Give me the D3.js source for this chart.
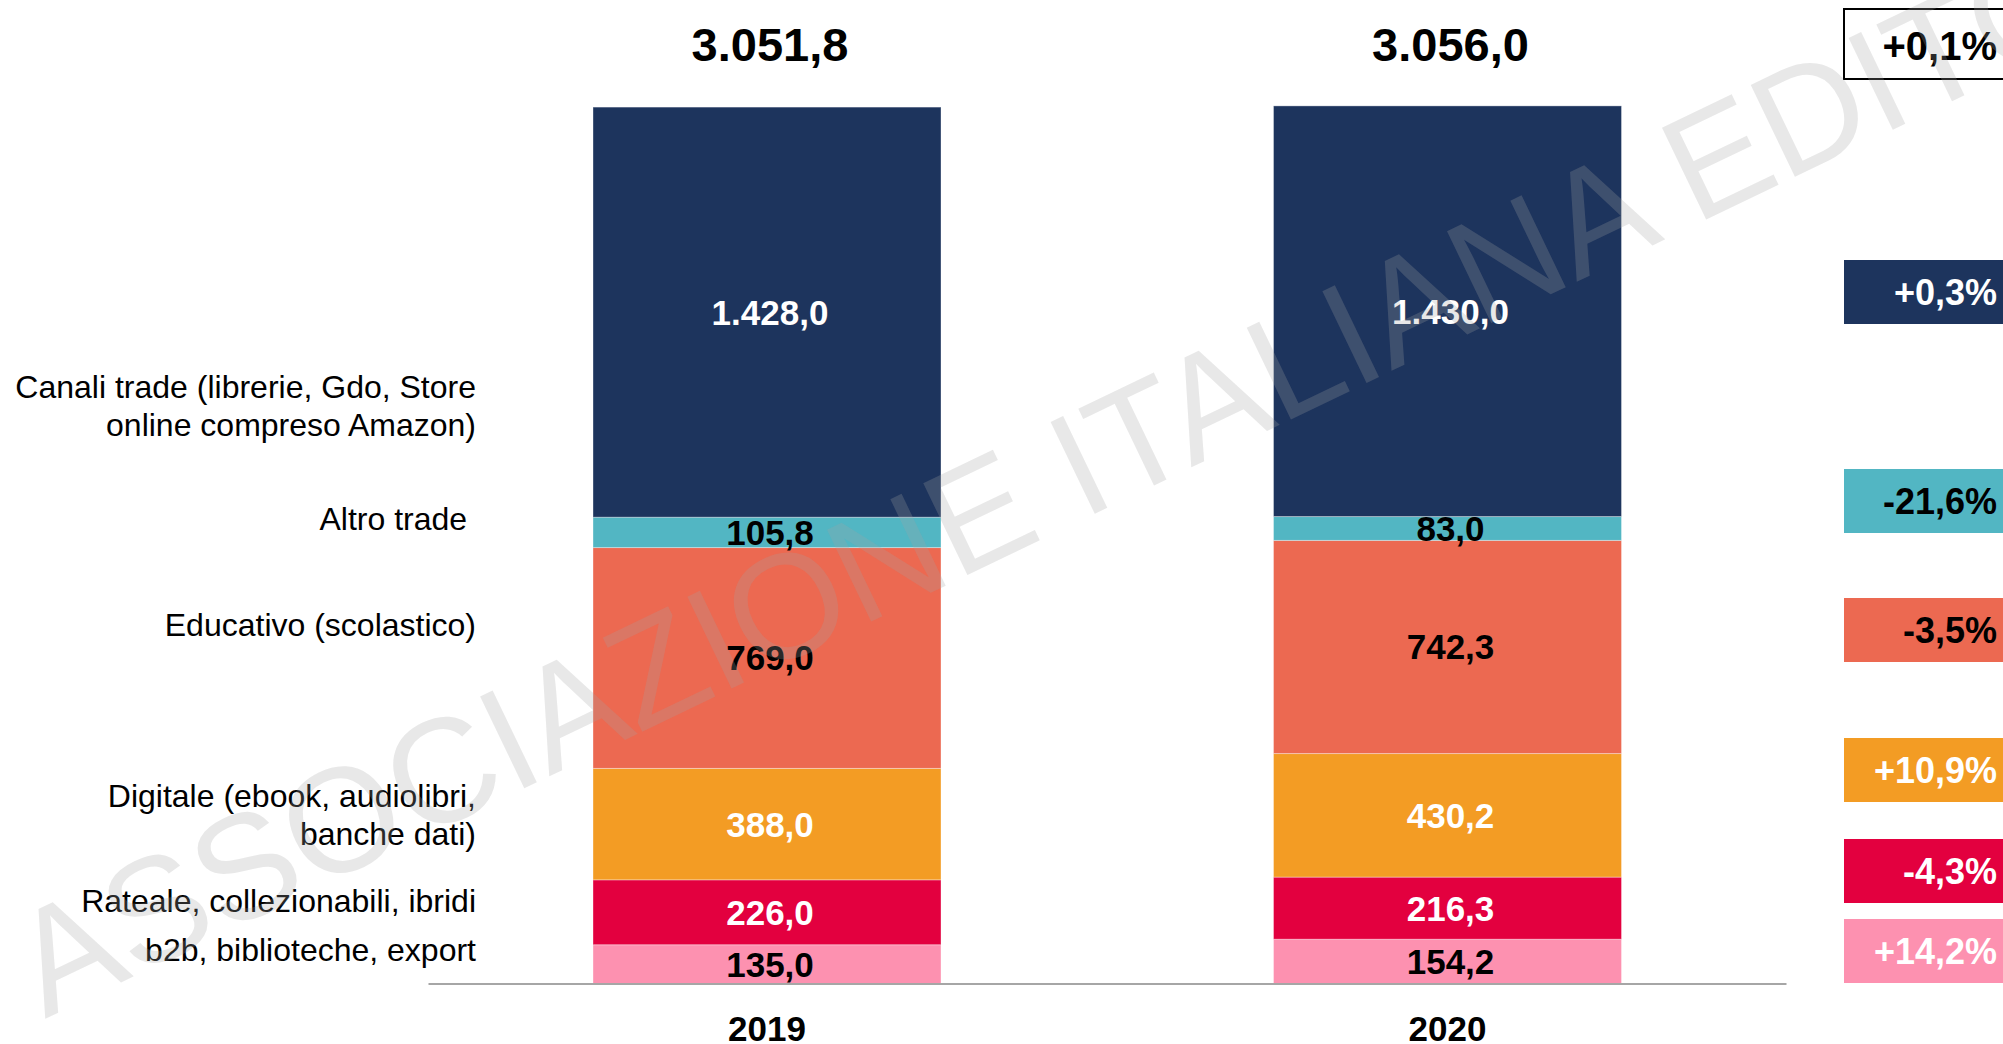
<!DOCTYPE html>
<html>
<head>
<meta charset="utf-8">
<script src="https://cdn.jsdelivr.net/npm/d3@7"></script>
<style>
  html, body { margin: 0; padding: 0; background: #fff; overflow: hidden; }
  svg { display: block; font-family: "Liberation Sans", Arial, sans-serif; }
</style>
</head>
<body>
<div id="chart"></div>
<script>
// DATA
var years = ["2019", "2020"];
var categories = [
    "b2b, biblioteche, export",
    "Rateale, collezionabili, ibridi",
    "Digitale (ebook, audiolibri, banche dati)",
    "Educativo (scolastico)",
    "Altro trade",
    "Canali trade (librerie, Gdo, Store online compreso Amazon)"
];
var categoryLines = [
    ["b2b, biblioteche, export"],
    ["Rateale, collezionabili, ibridi"],
    ["Digitale (ebook, audiolibri,", "banche dati)"],
    ["Educativo (scolastico)"],
    ["Altro trade\u00a0"],
    ["Canali trade (librerie, Gdo, Store", "online compreso Amazon)"]
];
var values2019 = [135.0, 226.0, 388.0, 769.0, 105.8, 1428.0];
var values2020 = [154.2, 216.3, 430.2, 742.3, 83.0, 1430.0];
var totals = [3051.8, 3056.0];
var changes = ["+14,2%", "-4,3%", "+10,9%", "-3,5%", "-21,6%", "+0,3%"];
var totalChange = "+0,1%";

// STYLE / LAYOUT
var colors = ["#fd91b0", "#e3003f", "#f39c24", "#ec6951", "#52b6c3", "#1d345d"];
var labelColors = ["#000", "#fff", "#fff", "#000", "#000", "#fff"];
var changeColors = ["#fff", "#fff", "#fff", "#000", "#000", "#fff"];
var categoryLabelY = [950, 901, 815, 625, 519, 406];
var changeBoxY = [951, 871, 770, 630, 501, 292];

var svgWidth = 2003, svgHeight = 1044;
var baseY = 983.5;

var svg = d3.select("#chart").append("svg")
    .attr("width", svgWidth)
    .attr("height", svgHeight);

var fmt = d3.formatLocale({decimal: ",", thousands: ".", grouping: [3], currency: ["", "€"]}).format(",.1f");

// build table
var table = years.map(function(y, i) {
    var row = {year: y};
    var src = i === 0 ? values2019 : values2020;
    categories.forEach(function(c, j) { row[c] = src[j]; });
    return row;
});

var stack = d3.stack().keys(categories);
var series = stack(table);

var yScale = d3.scaleLinear()
    .domain([0, d3.max(totals)])
    .range([baseY, 105.9]);

var xScale = d3.scalePoint()
    .domain(years)
    .range([767, 1447.5]);
var barWidth = 348;

// bars
var layers = svg.append("g").selectAll("g")
    .data(series)
    .enter().append("g")
    .attr("fill", function(d, i) { return colors[i]; });

layers.selectAll("rect")
    .data(function(d) { return d; })
    .enter().append("rect")
    .attr("x", function(d) { return xScale(d.data.year) - barWidth / 2; })
    .attr("y", function(d) { return yScale(d[1]); })
    .attr("width", barWidth)
    .attr("height", function(d) { return yScale(d[0]) - yScale(d[1]); })
    .attr("stroke", "rgba(255,255,255,0.35)")
    .attr("stroke-width", 1);

// value labels
series.forEach(function(s, i) {
    svg.append("g").selectAll("text")
        .data(s)
        .enter().append("text")
        .attr("x", function(d) { return xScale(d.data.year) + 3; })
        .attr("y", function(d) { return (yScale(d[0]) + yScale(d[1])) / 2; })
        .attr("dominant-baseline", "central")
        .attr("text-anchor", "middle")
        .attr("font-size", 35)
        .attr("font-weight", "bold")
        .attr("fill", labelColors[i])
        .text(function(d) { return fmt(d[1] - d[0]); });
});

// totals
svg.append("g").selectAll("text")
    .data(years)
    .enter().append("text")
    .attr("x", function(d) { return xScale(d) + 3; })
    .attr("y", 44)
    .attr("dominant-baseline", "central")
    .attr("text-anchor", "middle")
    .attr("font-size", 47)
    .attr("font-weight", "bold")
    .text(function(d, i) { return fmt(totals[i]); });

// x axis
var xAxisScale = d3.scaleBand().domain(years).range([428, 1786]);
var xAxis = svg.append("g")
    .attr("transform", "translate(0," + baseY + ")")
    .call(d3.axisBottom(xAxisScale).tickSize(0).tickPadding(0));
xAxis.select(".domain").attr("stroke", "#a6a6a6").attr("stroke-width", 2);
xAxis.selectAll(".tick text").remove();

svg.append("g").selectAll("text")
    .data(years)
    .enter().append("text")
    .attr("x", function(d) { return xScale(d); })
    .attr("y", 1028)
    .attr("dominant-baseline", "central")
    .attr("text-anchor", "middle")
    .attr("font-size", 35)
    .attr("font-weight", "bold")
    .text(function(d) { return d; });

// category labels
categoryLines.forEach(function(lines, i) {
    var t = svg.append("text")
        .attr("text-anchor", "end")
        .attr("font-size", 32)
        .attr("fill", "#000")
        .attr("xml:space", "preserve");
    var y0 = categoryLabelY[i] - (lines.length - 1) * 19;
    lines.forEach(function(l, k) {
        t.append("tspan")
            .attr("x", 476)
            .attr("y", y0 + k * 38)
            .attr("dominant-baseline", "central")
            .text(l);
    });
});

// change boxes
changes.forEach(function(c, i) {
    svg.append("rect")
        .attr("x", 1844)
        .attr("y", changeBoxY[i] - 32)
        .attr("width", 170)
        .attr("height", 64)
        .attr("fill", colors[i]);
    svg.append("text")
        .attr("x", 1997)
        .attr("y", changeBoxY[i])
        .attr("dominant-baseline", "central")
        .attr("text-anchor", "end")
        .attr("font-size", 36)
        .attr("font-weight", "bold")
        .attr("fill", changeColors[i])
        .text(c);
});

svg.append("rect")
    .attr("x", 1844)
    .attr("y", 9)
    .attr("width", 170)
    .attr("height", 70)
    .attr("fill", "#fff")
    .attr("stroke", "#000")
    .attr("stroke-width", 2);
svg.append("text")
    .attr("x", 1997)
    .attr("y", 46)
    .attr("dominant-baseline", "central")
    .attr("text-anchor", "end")
    .attr("font-size", 40)
    .attr("font-weight", "bold")
    .text(totalChange);

// watermark
svg.append("text")
    .attr("transform", "translate(45,1019) rotate(-25.7)")
    .attr("font-size", 148)
    .attr("fill", "rgb(162,162,162)")
    .attr("fill-opacity", 0.25)
    .text("ASSOCIAZIONE ITALIANA EDITORI");
</script>
</body>
</html>
